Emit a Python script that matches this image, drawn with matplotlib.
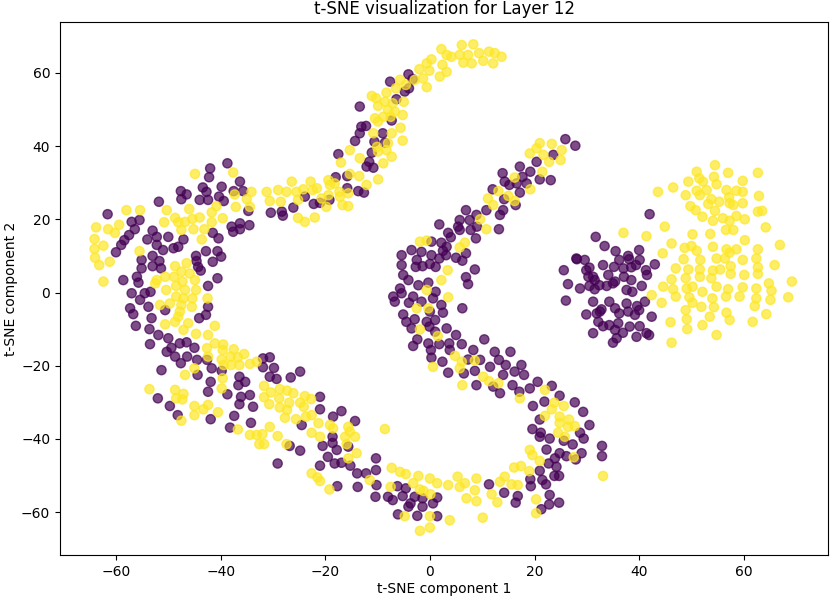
"""
t-SNE de la couche 12 : deux classes (0 -> violet, 1 -> jaune)
Valeurs relevées à la main sur l'image de référence
"""
import numpy as np
import matplotlib
matplotlib.use("Agg")
import matplotlib.pyplot as plt

# Classe 0 (violet) -- bande gauche
violet_gauche = [
	(-42, 33.9), (-38.7, 35.3), (-42.2, 31.5), (-36.3, 30.3), (-43.4, 28.7), (-47.6, 27.7), (-46.5, 26.8),
	(-47.5, 25.5), (-42.7, 27.5), (-42.4, 25.3), (-44, 25.3), (-40.3, 26.2), (-39.8, 28.9), (-39.4, 25),
	(-37.5, 27.7), (-35.7, 27.7), (-34.7, 22.3), (-51.8, 24.8), (-61.6, 21.4), (-57, 19.3), (-55.5, 19.8),
	(-56.4, 17.3), (-57.5, 15.7), (-58.4, 14.3), (-59, 13), (-60, 11), (-53, 16.9), (-54, 14.5), (-52.2, 15.2),
	(-50, 15.2), (-52.2, 13), (-51, 11.6), (-49, 12.1), (-48.1, 12.5), (-47.1, 14.5), (-41.5, 16.3),
	(-40.4, 14.8), (-42.8, 11.3), (-40.6, 11.3), (-39.9, 9.8), (-44.7, 10), (-44.6, 8.6), (-41.5, 8.4),
	(-44.3, 7), (-43.8, 6), (-37.9, 18), (-37.6, 16.6), (-36.3, 17.3), (-36.3, 18.9), (-34.5, 18.4),
	(-30.4, 21.8), (-28.3, 22.1), (-28.1, 21), (-26.1, 23.2), (-23.9, 26.2), (-22.2, 24.2), (-21, 24.5),
	(-55.1, 8.9), (-55.1, 6.6), (-53, 10), (-53, 7.2), (-51.7, 8.6), (-51.4, 6.6), (-56, 4.3), (-55.7, 2.7),
	(-58.6, 3.4), (-57, -0.2), (-54.5, -0.2), (-53.4, 0.2), (-55.4, -2), (-53.8, -3.9), (-57.3, -4.3),
	(-42.4, 1.8), (-40.6, 3.9), (-42.4, -3.9),
	(-56.7, -5.9), (-50.6, -4.8), (-53.2, -7), (-56.2, -9.1), (-53.6, -10), (-51.9, -11.6), (-53.5, -14.1),
	(-50, -12.5), (-47.8, -13.9), (-46.5, -13.6), (-49.4, -15.1), (-50.3, -16.2), (-45, -15.1), (-48.7, -17.5),
	(-47.6, -19.3), (-46.4, -17.5), (-44.5, -18.4), (-42.6, -18.4), (-41.7, -20.7), (-39.8, -21.4),
	(-44.1, -7), (-42.8, -6.1), (-51.3, -21.2), (-44.4, -22.5), (-41.9, -24.4), (-42.4, -27.1), (-38.7, -27.8),
	(-36.4, -23), (-36.6, -25.3), (-35.3, -24.4), (-36.1, -28.5), (-34.4, -28), (-36.4, -30.5), (-33.8, -31.2),
	(-31.9, -18), (-30.6, -17.7), (-31.9, -20.4), (-29.8, -20.6), (-30.6, -23), (-29.3, -23.6), (-26.6, -23.2),
	(-24.8, -21.6), (-52, -28.9), (-49.7, -31), (-48.2, -33.5), (-41.9, -34.6), (-37.4, -33.7), (-38.2, -36.9),
	(-34.2, -35.6), (-29.1, -46.7), (-21, -28.5), (-21, -31.9), (-16.9, -32.4), (-18.5, -33.9), (-24.5, -36.2),
	(-14.3, -35.1), (-18.6, -39.4), (-18.6, -41.1), (-20.5, -41.9), (-17.8, -43), (-15.6, -42.1),
	(-19.5, -44.9), (-18.2, -46.7), (-16.9, -46.5), (-15.2, -47.3), (-13.9, -49.4), (-21, -47.3),
	(-26.8, -41.9), (-24.8, -43.2),
]

# Classe 0 (violet) -- arc du bas
violet_bas = [
	(-10.3, -45.3), (-10.3, -48.5), (-10.2, -52.6), (-10.4, -55.8), (-8, -55.8), (-7.1, -56.7), (-6.2, -52.9),
	(-4.6, -53.5), (-5.2, -55.6), (-2.9, -55.8), (-3.7, -57.6), (-4.1, -58.5), (-1.4, -56.2), (-1.4, -58.5),
	(0.6, -57.6), (1.4, -56), (1.4, -61.1), (-2.4, -61), (-6.1, -60.6), (-13.8, -53.1), (-12.2, -49.4),
	(-17.7, -52.9),
	(3.5, -21.9), (6.5, -22.1), (8.6, -21.4), (8.9, -25.3), (11.3, -52.4), (14.2, -54.7), (16.4, -57.4),
	(16.8, -55.6), (19.2, -51), (19.3, -52.9), (21, -48.7), (21.5, -51.2), (22.2, -52.4), (22.9, -55.3),
	(22.8, -57.9), (24.7, -57.4), (21.3, -59.2), (23.8, -50.1), (24.7, -50.1), (24.2, -47.6), (22.7, -46.7),
	(23.9, -45.3), (24.8, -43.9), (26.1, -44.7), (22.3, -42.9), (21, -39.4), (22.9, -39.9), (19.6, -37.3),
	(21.2, -38.3), (25.6, -40.5), (27.3, -41.5), (29, -43.9), (27.9, -45.6), (29.4, -39.9), (28.7, -38.3),
	(30.5, -36.2), (29.3, -32.6), (27.7, -30), (24.8, -28.2), (21, -34.7), (19.7, -31), (21.9, -29.8),
	(23.3, -25.5), (20.6, -24.4), (19.1, -26.2), (17.1, -27.1), (13.4, -27.5), (12.1, -25.7), (16.2, -21.6),
	(18, -22.5), (15.8, -25.3), (14, -22.5), (32.9, -41.9), (32.9, -44.7),
]

# Classe 0 (violet) -- bande du milieu et boucle du haut
violet_milieu = [
	(25.9, 41.9), (27.8, 40.1), (23.6, 37.6), (20.4, 35.7), (17.2, 34.4), (19.2, 33), (21, 30.9), (23.1, 30.7),
	(13.9, 32.6), (14.3, 30.3), (17.7, 31.6), (16.6, 29.8), (15.2, 29.4), (17.2, 27.3), (18.5, 29.8),
	(16.4, 23.9), (14.2, 25.5), (14, 22.5), (13.4, 21.2), (12, 28.2), (10.8, 22.5), (8.9, 21.2), (6.9, 22.5),
	(7.6, 19.8), (5.7, 19.8), (5.4, 18), (5.7, 17.1), (9, 18), (7.8, 17.1), (13.2, 17.3), (8.8, 14.8),
	(3.5, 16.3), (4, 15.1), (1.8, 18.6), (2.2, 13.6), (3.2, 12.5), (0.3, 13.9), (2.5, 11.4), (1.8, 9.3),
	(3.1, 10.2), (6.9, 10.7), (5, 9.5), (6.2, 8.7), (8.6, 6.3), (6.9, 4.2), (7.3, 2.3), (-3.5, 11.6),
	(-5.4, 10.2), (-1.6, 11.1), (-2.5, 8.9), (-2.7, 7), (0.3, 10.2), (0, 7.8), (-1.4, 7.2), (-5.4, 7.5),
	(-5.1, 4.8), (1.1, 7), (-4.1, 3.4), (-2.2, 2), (-0.3, 2.7), (1.1, 0.2), (-5.7, 1.1), (-5.4, -0.2),
	(-7, -1.1), (-6.7, -2.5), (-4, -2.8), (-3.2, -1.1), (0.6, -1.6), (2.2, -3.4), (-1.6, -2.5), (0, -5.2),
	(2.5, -5.5), (6.2, -4.3), (-5.1, -6), (-2.9, -7.3), (-4.5, -8), (-0.6, -8), (1, -7.5), (-3.5, -9.8),
	(-0.1, -9.3), (3.2, -9.8), (1, -10.7), (-2.4, -12.8), (-0.3, -13.9), (5, -11.6), (1.8, -14.1),
	(-3.2, -14.6), (0.2, -15.7), (3.7, -13.9), (3.8, -15.7), (6.1, -14.1), (0.3, -17.8), (2.4, -18.9),
	(8.3, -15.7), (10.4, -12.8), (7.3, -18.3), (9.6, -18.4), (12.4, -16.2), (13.2, -18.4), (15.4, -16.2),
	(14.5, -19.8), (11.5, -20.3), (17.5, -19.8),
	(-4.1, 59.6), (-3.3, 58.3), (-7.6, 57.6), (-4.8, 54.9), (-4, 55.8), (-6.4, 52.8), (-13.4, 50.8),
	(-7.3, 47), (-13.1, 45.3), (-12.2, 45.5), (-13.4, 43.5), (-14.3, 41.4), (-9, 43.5), (-10.6, 41.2),
	(-8.6, 40.9), (-11.1, 38.2), (-17.5, 37.8), (-11.6, 35.7), (-10.8, 34.1), (-12.1, 34.4), (-15.8, 31.8),
	(-18, 31.5), (-15.8, 28.5), (-13.7, 27.7), (-12.6, 27.3), (-19.2, 25.3),
]

# Classe 0 (violet) -- amas de droite
violet_droite = [
	(42, 21.4), (31.7, 15.2), (33.4, 12.7), (35.5, 11.3), (40, 11.6), (37.9, 10), (36.2, 8.9), (38.1, 9.1),
	(40.1, 8.9), (43, 7.7), (28.1, 9.1), (29.6, 8.9), (30.5, 6.8), (33.1, 7.5), (35.2, 7), (37, 6.6),
	(38.5, 6.9), (39.4, 7.5), (41.3, 6.1), (41.5, 4.8), (25.6, 6.1), (30.3, 4.3), (31.5, 3.4), (34.1, 4.8),
	(37.1, 4.3), (38.5, 3.4), (26.4, 2.3), (30.5, 1.8), (32.4, 2), (33.8, 1.8), (35.4, 3), (28.7, 1.1),
	(31.5, 0.9), (37.6, 0.7), (40.5, 1.8), (38.7, 0.2), (26, -2.2), (31.2, -2.5), (34.3, -2.5), (35.4, -4.3),
	(37.6, -3), (39.6, -3.7), (41.1, -2.5), (29.9, -6), (31.9, -5.7), (32.8, -4.6), (36.2, -5.7), (37.9, -5.2),
	(39.2, -6.1), (40, -4.8), (42.4, -6.6), (32.2, -8), (34.3, -8.9), (36, -8.4), (38.2, -9.3), (40.1, -9.2),
	(35.4, -10.2), (36.9, -11), (39.5, -12.1), (41.4, -11.1), (41.9, -11.6), (31.2, -11.1), (35.7, -12.5),
	(35, -13.7), (33.1, -9.2), (28, 9.3), (29.9, 6.1), (31.2, 4.3), (35, 2.5), (32.5, -5.2),
]

# Classe 1 (jaune) -- bande gauche
jaune_gauche = [
	(-44.9, 32.4), (-37.6, 32.8), (-58, 22.5), (-55.4, 22.5), (-63.8, 17.8), (-61.5, 17.3), (-60.2, 16.3),
	(-59.4, 18.5), (-64.1, 14.6), (-62.4, 12.8), (-64.1, 11.9), (-64, 9.5), (-63.2, 7.5), (-61.2, 8.4),
	(-62.4, 3), (-55.5, 11.3), (-50.3, 22.5), (-50.8, 19.2), (-48.7, 20.4), (-48.1, 19.2), (-46.8, 19.3),
	(-46, 22.8), (-45.4, 20.1), (-44, 20.5), (-45.2, 17.3), (-43.1, 17.3), (-41.7, 21.9), (-40.8, 23.6),
	(-41.7, 19.2), (-39.6, 20.3), (-43.6, 14.5), (-47.5, 17.1), (-37.3, 26.8), (-37.1, 23.4), (-35, 25.5),
	(-34.4, 23.4), (-34.1, 27.5), (-31.2, 27.5), (-30.6, 25), (-29, 28), (-28.5, 24.8), (-27.4, 27.5),
	(-26.4, 30.3), (-25.5, 27.5), (-25.2, 25.3), (-24.2, 28.2), (-22.8, 30.3), (-22.4, 28), (-21.6, 28.5),
	(-25.2, 20.4), (-23.9, 19.3), (-22, 20.5), (-48.7, 7.2), (-46.5, 8), (-47.5, 5.7), (-45.9, 5.2),
	(-48.9, 4.3), (-52.2, 3.4), (-50.6, 4.3), (-44.9, 3.4), (-50.4, 0.7), (-48.5, 1.8), (-47.3, 3),
	(-46.8, 0.7), (-44.7, 0.7), (-48.5, -1.1), (-47.1, -1.6), (-45.4, -1.6), (-42.5, -1.6), (-51.6, -3.4),
	(-49.7, -3), (-47.5, -3.4), (-45.5, -3.9), (-52.5, 2.5),
	(-47.8, -5.2), (-48.1, -6.6), (-48.7, -8), (-50.6, -8.7), (-46.2, -8.4), (-47.1, -10.2), (-44.7, -11.3),
	(-42.4, -11.6), (-41.1, -9.1), (-41.1, -13.9), (-39.5, -14.2), (-42.6, -15.2), (-39.6, -15.7),
	(-37.5, -15.5), (-35.5, -16.8), (-42.4, -17.5), (-39.8, -18.3), (-38.1, -17.5), (-36.7, -17.7),
	(-38, -19.8), (-36.4, -19.8), (-39.4, -19.8), (-34.4, -19.5), (-33.1, -18.9), (-45, -20.7), (-46.8, -22.5),
	(-39.6, -23.4), (-39.8, -26.2), (-53.6, -26.4), (-48.7, -26.6), (-47.1, -27.7), (-48.5, -28.9),
	(-47.3, -29.2), (-45, -31), (-43.3, -31.9), (-42.4, -30.7), (-45, -33.5), (-40.5, -32.7), (-47.5, -35),
	(-31.7, -25.5), (-30.4, -27.3), (-31.7, -28.6), (-30.7, -30.5), (-28.7, -26.4), (-27.3, -26.8),
	(-26.1, -27.5), (-28.8, -28.9), (-26.9, -30.1), (-28.7, -31.4), (-27.3, -32.1), (-27.7, -34.2),
	(-24.8, -30.1), (-24.1, -31.2), (-23.9, -28.3), (-22.7, -29.1), (-25.6, -34.6), (-23.7, -33.9),
	(-22.6, -33.5), (-30.6, -36.7), (-36.7, -37.4), (-34.4, -38.9), (-33.1, -38.9), (-32, -38.7),
	(-29.1, -39.2), (-32.6, -41.4), (-31.7, -41.4), (-27.4, -41.4), (-22.6, -38.3), (-21.3, -35.7),
	(-21, -39.4), (-19.1, -36.2), (-18.5, -37.1), (-15.6, -36.7), (-15.3, -38), (-16.2, -39.4),
	(-14.3, -39.4), (-15.9, -41.4), (-14, -43.9), (-15.6, -45.3), (-22.6, -49.4), (-21.5, -50.5),
]

# Classe 1 (jaune) -- arc du bas
jaune_bas = [
	(-8.6, -37.3), (-7.3, -47.9), (-5.7, -49), (-4.6, -49.6), (-2.2, -50.1), (-3.2, -52.1), (0, -50.8),
	(1.4, -52.1), (-1.9, -53.8), (-1.2, -54.2), (0.1, -55.1), (-7.5, -53.1), (-4.8, -61.1), (0, -61.1),
	(-1.9, -65.1), (0, -64.2), (-11.5, -51.2), (-19.2, -53.8), (-21, -51.5),
	(3.5, -52.6), (5.3, -50.3), (5.7, -53.1), (6.7, -52.1), (8.9, -50.8), (8.6, -54), (7, -56.2), (8.9, -57),
	(10.1, -61.5), (3.8, -62.2), (11.8, -55.1), (12.9, -57.3), (13.4, -51.7), (14.3, -50.3), (15.6, -52.4),
	(16.8, -52.6), (16.1, -47.8), (17.4, -47.4), (19, -48.8), (20.3, -56.5), (20.3, -60.3), (19.1, -43),
	(19.6, -44.4), (21, -46), (22, -33.7), (23.3, -31.9), (23.8, -30.1), (25.6, -31), (24.8, -33.9),
	(24.8, -35.6), (26.6, -34.7), (24.5, -38.3), (25.8, -39.4), (26.4, -36.7), (27.7, -36.5), (27.5, -45),
	(33.1, -50.1), (22, -26.6), (17.2, -28.9), (6.2, -25.3), (11.3, -24.2), (13.1, -24.8), (10.2, -23),
]

# Classe 1 (jaune) -- bande du milieu et boucle du haut
jaune_milieu = [
	(21, 40.8), (23.3, 40.6), (25.2, 38.9), (19.1, 38), (20.4, 39.4), (21.7, 37.6), (22.8, 35.7), (25, 36.2),
	(21.5, 33), (16.2, 31.4), (19.2, 28.2), (13.1, 27.7), (11.1, 25.7), (12.1, 23.9), (15, 26.4), (16.2, 25),
	(9.6, 20), (10.8, 17.3), (6.7, 13.6), (5.7, 12.3), (-1.9, 13.9), (-0.6, 14.2), (3.4, 6.1), (2.2, 3.4),
	(-0.6, 0.7), (3.5, -1.3), (-0.3, -4.3), (-2.5, -4.3), (-1.9, -10.1), (1.5, -11.9), (4.8, -17.3),
	(6.1, -18.9), (5.7, -20.7), (8.6, -18.6), (0.6, -20.3),
	(2.2, 66.5), (6.1, 67.6), (8.3, 67.8), (3.2, 64.9), (4.1, 64.4), (5.7, 64.9), (7.3, 64.9), (9.4, 65.4),
	(11.3, 65.8), (12.4, 65.4), (13.7, 64.4), (10.2, 63.3), (12.1, 62.6), (6.4, 62.8), (8, 62.6), (2.4, 62.2),
	(3.2, 60.3), (1.9, 59), (0.3, 63.7), (-0.6, 62.6), (-2, 61), (-0.1, 60.6), (-1.3, 58.5), (-0.6, 56.1),
	(-2.9, 58.1), (-5.7, 58.1), (-4.6, 56.7), (-6.5, 55.8), (-8.3, 54.6), (-11.1, 53.7), (-10.3, 53.1),
	(-8.6, 52.1), (-7.1, 51.7), (-5, 52.1), (-9.9, 51), (-8, 49.9), (-6.7, 49.4), (-5.2, 48.5), (-10.5, 47.6),
	(-9.9, 46.7), (-7.5, 48), (-8.9, 48), (-10.8, 43.5), (-7.3, 43.5), (-5.6, 45), (-5.2, 41.5), (-8, 40.8),
	(-10.1, 39.8), (-9.9, 38.5), (-8.3, 38.9), (-7.3, 37.1), (-8.9, 35.3), (-13.4, 36.7), (-15.3, 38.9),
	(-17, 35.5), (-13.5, 31.8), (-12.1, 29.4), (-9.9, 30.9), (-15.3, 32.4), (-15.6, 27.1), (-17.3, 27.5),
	(-19.4, 30.7), (-19.1, 29.4), (-18.2, 29.8), (-19.4, 26.6), (-20.7, 25.7), (-17.2, 26.2), (-16.7, 23.9),
	(-19.8, 23.4), (-15.6, 23.6),
]

# Classe 1 (jaune) -- amas de droite
jaune_droite = [
	(54.5, 34.8), (51, 33), (57, 32.7), (62.7, 32.7), (51.5, 31.2), (49.4, 30.3), (52.2, 30.3), (54.3, 31.6),
	(54.8, 29.6), (59.8, 30.5), (46.5, 28.7), (43.6, 27.5), (51, 27.8), (52.9, 28), (56.7, 28), (58.6, 27.8),
	(59.8, 27.5), (48.9, 26.6), (51.6, 26.6), (53.8, 25.5), (55.3, 24.8), (57.2, 26), (62.9, 26.4),
	(53.2, 24.2), (49.8, 23.6), (50.8, 22.5), (54.5, 22.3), (57.3, 24.4), (58, 23.9), (59.8, 24.4),
	(52.1, 20.7), (54.1, 19.6), (56, 20.3), (57.3, 19.6), (58.6, 20.9), (60.2, 20), (62.7, 22.1), (63.5, 22.3),
	(56.6, 17.1), (58, 17.1), (64.2, 17.8), (44.9, 18), (50.2, 15.9), (53.6, 16), (37, 16.3), (41.4, 15.4),
	(46.2, 13.4), (48.7, 12.2), (50, 12.7), (51, 11.4), (54.1, 12.5), (56.7, 11.8), (57.3, 10.9), (58.6, 11.8),
	(60.2, 14.3), (62.7, 11.8), (66.9, 13), (44.5, 10.7), (48.5, 9.1), (51.7, 8.9), (54.8, 9.3), (56.4, 9.3),
	(59.8, 8.9), (62.4, 9.3), (65.9, 7.5), (47, 6.6), (49.4, 6.3), (51.6, 6.3), (54.1, 6), (57.5, 7.2),
	(62.7, 6.9), (51.6, 4.3), (53.8, 3.9), (55.5, 6.3), (57.5, 5.1), (60.1, 4.8), (62.7, 5.1), (46.2, 3.6),
	(48.9, 3.9), (44.6, 1.6), (46.5, 0.9), (49.1, 1.1), (50.2, 1.6), (54.8, 1.6), (57, 0.9), (59.8, 1.4),
	(62.4, 1.1), (64.8, 2.5), (69.2, 3), (65.3, 0.5), (42.4, -0.7), (47, -1.1), (49.6, -1.3), (52.1, 0.2),
	(54, -1.6), (56.6, -1.1), (59.2, -1.1), (62.4, -1.6), (65.1, -2), (68.5, -1.3), (44.3, -2.8), (50.2, -2.8),
	(51.9, -3.9), (54.3, -4), (62.1, -3.7), (48.9, -4.8), (56.7, -5.5), (64.3, -5.9), (53.5, -6.6),
	(49.1, -7.3), (57.3, -7.5), (61.7, -8), (46, -8.1), (52.1, -8.9), (49.2, -10), (54.8, -11.6), (46.2, -13.7),
]

violet = np.array(violet_gauche + violet_bas + violet_milieu + violet_droite)
jaune = np.array(jaune_gauche + jaune_bas + jaune_milieu + jaune_droite)
points = np.vstack([violet, jaune])
labels = np.concatenate([np.zeros(len(violet)), np.ones(len(jaune))])

fig = plt.figure(figsize=(8.3, 5.99), dpi=100)
ax = fig.add_axes([60 / 830, 44 / 599, 768 / 830, 533 / 599])
ax.scatter(points[:, 0], points[:, 1], c=labels, cmap="viridis", alpha=0.7, s=44)
ax.set_xlim(-70.7, 76.1)
ax.set_ylim(-71.7, 73.9)
ax.set_title("t-SNE visualization for Layer 12")
ax.set_xlabel("t-SNE component 1", labelpad=2)
ax.set_ylabel("t-SNE component 2", labelpad=2)
fig.savefig("out.png", dpi=100)
